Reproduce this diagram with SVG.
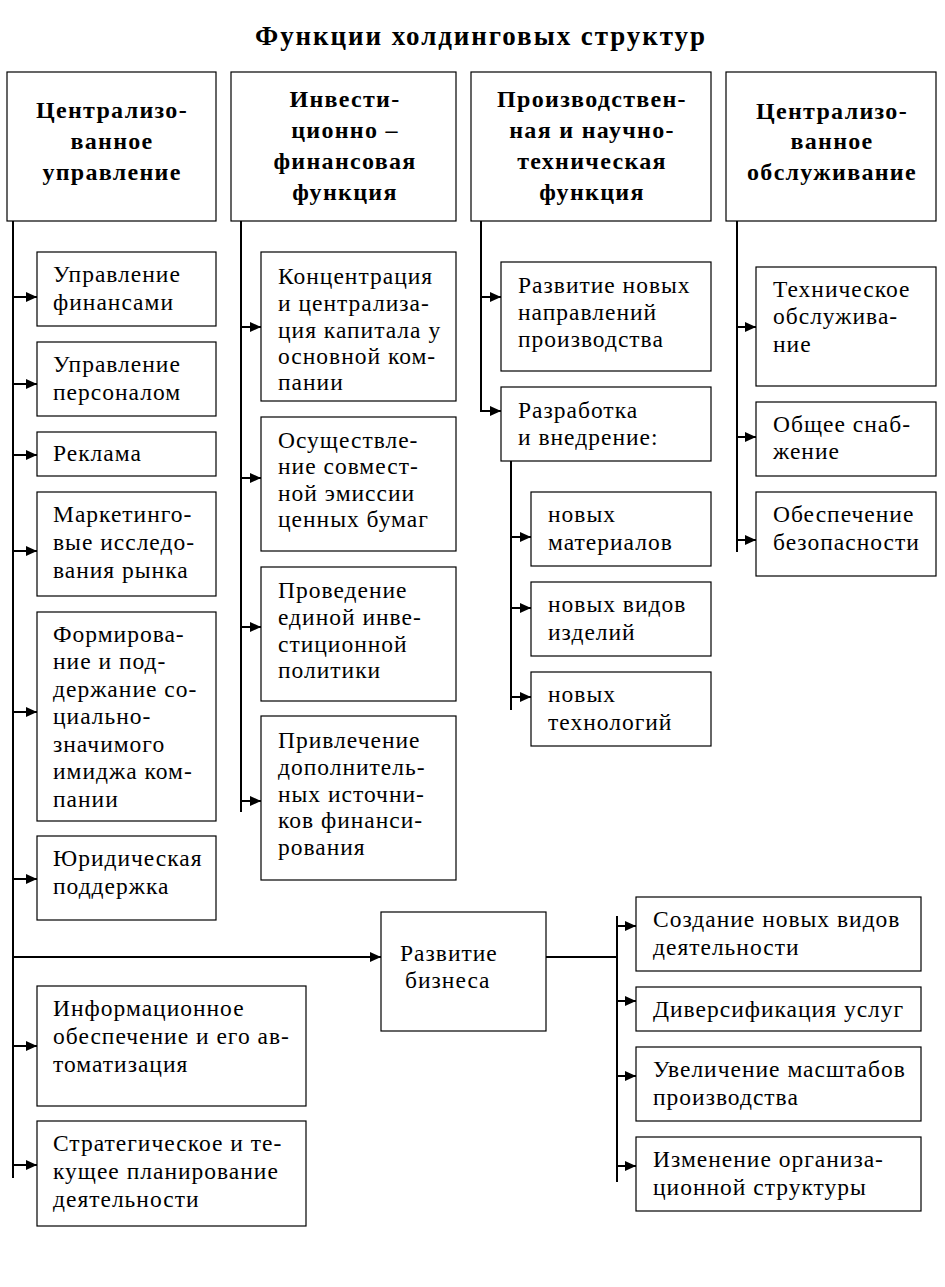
<svg xmlns="http://www.w3.org/2000/svg" width="945" height="1287" viewBox="0 0 945 1287" font-family="Liberation Serif, serif">
<defs>
<marker id="ah" markerUnits="userSpaceOnUse" markerWidth="12" markerHeight="12" refX="11" refY="6" orient="auto">
<path d="M0,1 L11,6 L0,11 Z" fill="#000"/>
</marker>
<style>
.b{fill:#fff;stroke:#000;stroke-width:1.2}
.t{font-size:23.5px;letter-spacing:1px;fill:#000}
.h{font-size:24px;font-weight:bold;letter-spacing:1.3px;fill:#000;text-anchor:middle}
.c{stroke:#000;stroke-width:2;fill:none}
.a{stroke:#000;stroke-width:2;fill:none;marker-end:url(#ah)}
</style>
</defs>
<rect width="945" height="1287" fill="#fff"/>
<text font-family="'Liberation Serif', serif" x="255" y="45" font-size="27" font-weight="bold" textLength="450" lengthAdjust="spacing">Функции холдинговых структур</text>

<g id="h1"><rect class="b" x="7" y="72" width="209" height="149"/>
<text font-family="'Liberation Serif', serif" class="h"><tspan x="112" y="118">Централизо-</tspan><tspan x="112" y="149">ванное</tspan><tspan x="112" y="180">управление</tspan></text></g>
<g id="h2"><rect class="b" x="231" y="72" width="225" height="149"/>
<text font-family="'Liberation Serif', serif" class="h"><tspan x="345" y="107">Инвести-</tspan><tspan x="345" y="138">ционно –</tspan><tspan x="345" y="169">финансовая</tspan><tspan x="345" y="200">функция</tspan></text></g>
<g id="h3"><rect class="b" x="471" y="72" width="240" height="149"/>
<text font-family="'Liberation Serif', serif" class="h"><tspan x="592" y="107">Производствен-</tspan><tspan x="592" y="138">ная и научно-</tspan><tspan x="592" y="169">техническая</tspan><tspan x="592" y="200">функция</tspan></text></g>
<g id="h4"><rect class="b" x="726" y="72" width="210" height="149"/>
<text font-family="'Liberation Serif', serif" class="h"><tspan x="832" y="119">Централизо-</tspan><tspan x="832" y="149">ванное</tspan><tspan x="832" y="180">обслуживание</tspan></text></g>

<g id="c1n1"><rect class="b" x="37" y="252" width="179" height="74"/>
<text font-family="'Liberation Serif', serif" class="t"><tspan x="53" y="282">Управление</tspan><tspan x="53" y="310">финансами</tspan></text></g>
<g id="c1n2"><rect class="b" x="37" y="342" width="179" height="74"/>
<text font-family="'Liberation Serif', serif" class="t"><tspan x="53" y="372">Управление</tspan><tspan x="53" y="400">персоналом</tspan></text></g>
<g id="c1n3"><rect class="b" x="37" y="432" width="179" height="44"/>
<text font-family="'Liberation Serif', serif" class="t"><tspan x="53" y="461">Реклама</tspan></text></g>
<g id="c1n4"><rect class="b" x="37" y="492" width="179" height="104"/>
<text font-family="'Liberation Serif', serif" class="t"><tspan x="53" y="522">Маркетинго-</tspan><tspan x="53" y="550">вые исследо-</tspan><tspan x="53" y="578">вания рынка</tspan></text></g>
<g id="c1n5"><rect class="b" x="37" y="612" width="179" height="209"/>
<text font-family="'Liberation Serif', serif" class="t"><tspan x="53" y="642">Формирова-</tspan><tspan x="53" y="669">ние и под-</tspan><tspan x="53" y="697">держание со-</tspan><tspan x="53" y="724">циально-</tspan><tspan x="53" y="752">значимого</tspan><tspan x="53" y="779">имиджа ком-</tspan><tspan x="53" y="807">пании</tspan></text></g>
<g id="c1n6"><rect class="b" x="37" y="836" width="179" height="84"/>
<text font-family="'Liberation Serif', serif" class="t"><tspan x="53" y="866">Юридическая</tspan><tspan x="53" y="894">поддержка</tspan></text></g>
<g id="c1n7"><rect class="b" x="37" y="986" width="269" height="120"/>
<text font-family="'Liberation Serif', serif" class="t"><tspan x="53" y="1016">Информационное</tspan><tspan x="53" y="1044">обеспечение и его ав-</tspan><tspan x="53" y="1072">томатизация</tspan></text></g>
<g id="c1n8"><rect class="b" x="37" y="1121" width="269" height="105"/>
<text font-family="'Liberation Serif', serif" class="t"><tspan x="53" y="1151">Стратегическое и те-</tspan><tspan x="53" y="1179">кущее планирование</tspan><tspan x="53" y="1207">деятельности</tspan></text></g>

<g id="c2n1"><rect class="b" x="261" y="252" width="195" height="149"/>
<text font-family="'Liberation Serif', serif" class="t"><tspan x="278" y="284">Концентрация</tspan><tspan x="278" y="311">и централиза-</tspan><tspan x="278" y="338">ция капитала у</tspan><tspan x="278" y="364">основной ком-</tspan><tspan x="278" y="390">пании</tspan></text></g>
<g id="c2n2"><rect class="b" x="261" y="417" width="195" height="134"/>
<text font-family="'Liberation Serif', serif" class="t"><tspan x="278" y="448">Осуществле-</tspan><tspan x="278" y="474">ние совмест-</tspan><tspan x="278" y="501">ной эмиссии</tspan><tspan x="278" y="527">ценных бумаг</tspan></text></g>
<g id="c2n3"><rect class="b" x="261" y="567" width="195" height="134"/>
<text font-family="'Liberation Serif', serif" class="t"><tspan x="278" y="598">Проведение</tspan><tspan x="278" y="625">единой инве-</tspan><tspan x="278" y="652">стиционной</tspan><tspan x="278" y="678">политики</tspan></text></g>
<g id="c2n4"><rect class="b" x="261" y="716" width="195" height="164"/>
<text font-family="'Liberation Serif', serif" class="t"><tspan x="278" y="748">Привлечение</tspan><tspan x="278" y="775">дополнитель-</tspan><tspan x="278" y="802">ных источни-</tspan><tspan x="278" y="828">ков финанси-</tspan><tspan x="278" y="855">рования</tspan></text></g>

<g id="c3n1"><rect class="b" x="501" y="262" width="210" height="109"/>
<text font-family="'Liberation Serif', serif" class="t"><tspan x="518" y="293">Развитие новых</tspan><tspan x="518" y="320">направлений</tspan><tspan x="518" y="347">производства</tspan></text></g>
<g id="c3n2"><rect class="b" x="501" y="387" width="210" height="74"/>
<text font-family="'Liberation Serif', serif" class="t"><tspan x="518" y="418">Разработка</tspan><tspan x="518" y="445">и внедрение:</tspan></text></g>
<g id="c3n3"><rect class="b" x="531" y="492" width="180" height="74"/>
<text font-family="'Liberation Serif', serif" class="t"><tspan x="548" y="522">новых</tspan><tspan x="548" y="550">материалов</tspan></text></g>
<g id="c3n4"><rect class="b" x="531" y="582" width="180" height="74"/>
<text font-family="'Liberation Serif', serif" class="t"><tspan x="548" y="612">новых видов</tspan><tspan x="548" y="640">изделий</tspan></text></g>
<g id="c3n5"><rect class="b" x="531" y="672" width="180" height="74"/>
<text font-family="'Liberation Serif', serif" class="t"><tspan x="548" y="702">новых</tspan><tspan x="548" y="730">технологий</tspan></text></g>

<g id="c4n1"><rect class="b" x="756" y="267" width="180" height="119"/>
<text font-family="'Liberation Serif', serif" class="t"><tspan x="773" y="297">Техническое</tspan><tspan x="773" y="324">обслужива-</tspan><tspan x="773" y="352">ние</tspan></text></g>
<g id="c4n2"><rect class="b" x="756" y="402" width="180" height="74"/>
<text font-family="'Liberation Serif', serif" class="t"><tspan x="773" y="432">Общее снаб-</tspan><tspan x="773" y="459">жение</tspan></text></g>
<g id="c4n3"><rect class="b" x="756" y="492" width="180" height="84"/>
<text font-family="'Liberation Serif', serif" class="t"><tspan x="773" y="522">Обеспечение</tspan><tspan x="773" y="550">безопасности</tspan></text></g>

<g id="biz"><rect class="b" x="381" y="912" width="165" height="119"/>
<text font-family="'Liberation Serif', serif" class="t"><tspan x="400" y="961">Развитие</tspan><tspan x="405" y="988">бизнеса</tspan></text></g>

<g id="r1"><rect class="b" x="636" y="897" width="285" height="74"/>
<text font-family="'Liberation Serif', serif" class="t"><tspan x="653" y="927">Создание новых видов</tspan><tspan x="653" y="955">деятельности</tspan></text></g>
<g id="r2"><rect class="b" x="636" y="987" width="285" height="44"/>
<text font-family="'Liberation Serif', serif" class="t"><tspan x="653" y="1017">Диверсификация услуг</tspan></text></g>
<g id="r3"><rect class="b" x="636" y="1047" width="285" height="74"/>
<text font-family="'Liberation Serif', serif" class="t"><tspan x="653" y="1077">Увеличение масштабов</tspan><tspan x="653" y="1105">производства</tspan></text></g>
<g id="r4"><rect class="b" x="636" y="1137" width="285" height="74"/>
<text font-family="'Liberation Serif', serif" class="t"><tspan x="653" y="1167">Изменение организа-</tspan><tspan x="653" y="1195">ционной структуры</tspan></text></g>

<g id="connectors">
<line class="c" x1="13" y1="221" x2="13" y2="1178"/>
<line class="a" x1="13" y1="297" x2="37" y2="297"/>
<line class="a" x1="13" y1="384" x2="37" y2="384"/>
<line class="a" x1="13" y1="455" x2="37" y2="455"/>
<line class="a" x1="13" y1="551" x2="37" y2="551"/>
<line class="a" x1="13" y1="712" x2="37" y2="712"/>
<line class="a" x1="13" y1="879" x2="37" y2="879"/>
<line class="a" x1="13" y1="957" x2="381" y2="957"/>
<line class="a" x1="13" y1="1046" x2="37" y2="1046"/>
<line class="a" x1="13" y1="1165" x2="37" y2="1165"/>

<line class="c" x1="241" y1="221" x2="241" y2="812"/>
<line class="a" x1="241" y1="327" x2="261" y2="327"/>
<line class="a" x1="241" y1="478" x2="261" y2="478"/>
<line class="a" x1="241" y1="627" x2="261" y2="627"/>
<line class="a" x1="241" y1="801" x2="261" y2="801"/>

<line class="c" x1="481" y1="221" x2="481" y2="412"/>
<line class="a" x1="481" y1="297" x2="501" y2="297"/>
<line class="a" x1="481" y1="411" x2="501" y2="411"/>
<line class="c" x1="511" y1="461" x2="511" y2="710"/>
<line class="a" x1="511" y1="537" x2="531" y2="537"/>
<line class="a" x1="511" y1="608" x2="531" y2="608"/>
<line class="a" x1="511" y1="697" x2="531" y2="697"/>

<line class="c" x1="737" y1="221" x2="737" y2="552"/>
<line class="a" x1="737" y1="327" x2="756" y2="327"/>
<line class="a" x1="737" y1="437" x2="756" y2="437"/>
<line class="a" x1="737" y1="540" x2="756" y2="540"/>

<line class="c" x1="546" y1="957" x2="617" y2="957"/>
<line class="c" x1="617" y1="916" x2="617" y2="1182"/>
<line class="a" x1="617" y1="926" x2="636" y2="926"/>
<line class="a" x1="617" y1="1001" x2="636" y2="1001"/>
<line class="a" x1="617" y1="1076" x2="636" y2="1076"/>
<line class="a" x1="617" y1="1166" x2="636" y2="1166"/>
</g>
</svg>
